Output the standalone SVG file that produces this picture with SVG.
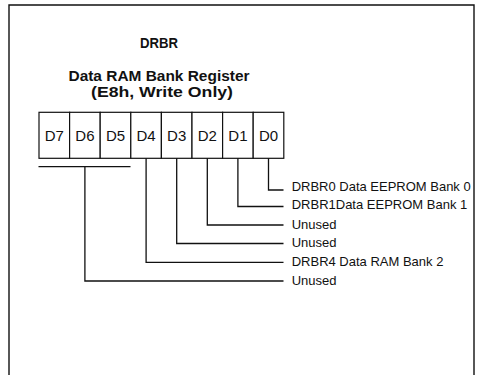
<svg xmlns="http://www.w3.org/2000/svg" width="479" height="375" viewBox="0 0 479 375">
  <style>
    .frame { fill: none; stroke: #111; stroke-width: 1.4; }
    .cell { fill: #fff; stroke: #111; stroke-width: 1.2; }
    .wire { fill: none; stroke: #111; stroke-width: 1.3; }
    .title { font-family: "Liberation Sans", Arial, sans-serif; font-weight: bold; fill: #111; text-anchor: middle; }
    .bit { font-family: "Liberation Sans", Arial, sans-serif; font-size: 15px; fill: #111; text-anchor: middle; }
    .label { font-family: "Liberation Sans", Arial, sans-serif; font-size: 13px; fill: #111; }
  </style>

  <rect width="479" height="375" fill="#fff"/>

  <!-- outer frame, open at the bottom -->
  <path class="frame" d="M9,380 V5 H474 V380"/>

  <!-- headings -->
  <g id="heading">
    <text class="title" x="159" y="47.5" font-size="15.5" textLength="38" lengthAdjust="spacingAndGlyphs">DRBR</text>
    <text class="title" x="159" y="80.8" font-size="15" textLength="181" lengthAdjust="spacingAndGlyphs">Data RAM Bank Register</text>
    <text class="title" x="162" y="97" font-size="15" textLength="142" lengthAdjust="spacingAndGlyphs">(E8h, Write Only)</text>
  </g>

  <!-- register bit cells -->
  <g id="reg-d7"><rect class="cell" x="39" y="112.3" width="30.6" height="46"/><text class="bit" x="54.3" y="141.3">D7</text></g>
  <g id="reg-d6"><rect class="cell" x="69.6" y="112.3" width="30.6" height="46"/><text class="bit" x="84.9" y="141.3">D6</text></g>
  <g id="reg-d5"><rect class="cell" x="100.2" y="112.3" width="30.6" height="46"/><text class="bit" x="115.5" y="141.3">D5</text></g>
  <g id="reg-d4"><rect class="cell" x="130.8" y="112.3" width="30.6" height="46"/><text class="bit" x="146.1" y="141.3">D4</text></g>
  <g id="reg-d3"><rect class="cell" x="161.4" y="112.3" width="30.6" height="46"/><text class="bit" x="176.7" y="141.3">D3</text></g>
  <g id="reg-d2"><rect class="cell" x="192" y="112.3" width="30.6" height="46"/><text class="bit" x="207.3" y="141.3">D2</text></g>
  <g id="reg-d1"><rect class="cell" x="222.6" y="112.3" width="30.6" height="46"/><text class="bit" x="237.9" y="141.3">D1</text></g>
  <g id="reg-d0"><rect class="cell" x="253.2" y="112.3" width="30.6" height="46"/><text class="bit" x="268.5" y="141.3">D0</text></g>

  <!-- bit field leader lines -->
  <g id="connectors">
    <path class="wire" d="M268.5,158.3 V190 H283.5"/>
    <path class="wire" d="M237.9,158.3 V206.5 H283.5"/>
    <path class="wire" d="M207.3,158.3 V225 H283.5"/>
    <path class="wire" d="M176.7,158.3 V243.5 H283.5"/>
    <path class="wire" d="M146.1,158.3 V262.3 H283.5"/>
    <path class="wire" d="M38.5,166.7 H130.5"/>
    <path class="wire" d="M84.9,166.7 V281 H283.5"/>
  </g>

  <!-- field descriptions -->
  <g id="labels">
    <text class="label" x="291.7" y="190.5" textLength="179" lengthAdjust="spacing">DRBR0 Data EEPROM Bank 0</text>
    <text class="label" x="291.7" y="209.3">DRBR1Data EEPROM Bank 1</text>
    <text class="label" x="291.7" y="228.5">Unused</text>
    <text class="label" x="291.7" y="247.3">Unused</text>
    <text class="label" x="291.7" y="266.3">DRBR4 Data RAM Bank 2</text>
    <text class="label" x="291.7" y="285">Unused</text>
  </g>
</svg>
